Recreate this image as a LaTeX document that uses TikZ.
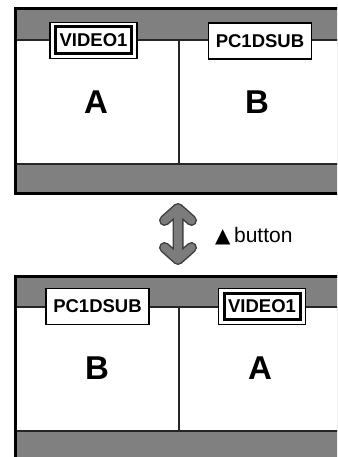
\documentclass[tikz,border=0pt]{standalone}
\usepackage{fontspec}
\setmainfont{Liberation Sans}
\newfontfamily\dejavu{DejaVu Sans}
\definecolor{scrgray}{HTML}{808080}
\definecolor{arrgray}{HTML}{7C7C7C}
\definecolor{arrdark}{HTML}{404040}
\begin{document}
\begin{tikzpicture}[x=1pt,y=-1pt,
  frame/.style={line width=3pt,black},
  thinline/.style={line width=1.3pt,black!85},
  lbl/.style={draw=black,line width=1.3pt,fill=white,inner sep=0pt,minimum height=36pt,
    font=\bfseries\fontsize{18.5}{19}\selectfont},
  big/.style={font=\bfseries\fontsize{33}{33}\selectfont},
  arrline/.style={line cap=round,line join=round}]
\useasboundingbox (0,0) rectangle (337,457);
\clip (0,0) rectangle (337,457);
\fill[white] (0,0) rectangle (337,457);
% ---------- top screen ----------
\fill[scrgray] (15,9) rectangle (345,193);
\fill[white] (15,40) rectangle (345,164);
\draw[thinline] (15,40) -- (345,40) (15,164) -- (345,164) (179,40) -- (179,164);
\draw[frame] (345,9) -- (15,9) -- (15,193) -- (345,193);
\node[lbl,minimum width=87pt] (tv1) at (93.5,40.5) {};
\node[draw=black,line width=3pt,minimum width=76pt,minimum height=26.5pt,inner sep=0pt,
  font=\bfseries\fontsize{18.5}{19}\selectfont] (tv1in) at (93.5,40.2) {VIDEO1};
\node[lbl,minimum width=103pt] (tpc) at (260,41) {PC1DSUB};
\node[big] (ta) at (96,102) {A};
\node[big] (tb) at (257,102) {B};
% ---------- arrow ----------
\draw[arrline,line width=11pt,arrdark]
  (164.5,220.5) -- (178,208.5) -- (191.5,220.5) (178,208.5) -- (178,259.5)
  (164.5,247.5) -- (178,259.5) -- (191.5,247.5);
\draw[arrline,line width=8pt,arrgray]
  (164.5,220.5) -- (178,208.5) -- (191.5,220.5) (178,208.5) -- (178,259.5)
  (164.5,247.5) -- (178,259.5) -- (191.5,247.5);
\node[anchor=west,inner sep=0pt,font=\fontsize{21}{21}\selectfont] (btn) at (215,236)
  {{\dejavu\fontsize{20}{20}\selectfont ▲}\,button};
% ---------- bottom screen ----------
\fill[scrgray] (15,276) rectangle (345,465);
\fill[white] (15,307) rectangle (345,431);
\draw[thinline] (15,307) -- (345,307) (15,431) -- (345,431) (179,307) -- (179,431);
\draw[frame] (345,276) -- (15,276) -- (15,465);
\node[lbl,minimum width=103pt] (bpc) at (97.5,306.5) {PC1DSUB};
\node[lbl,minimum width=87pt] (bv1) at (262,306.3) {};
\node[draw=black,line width=3pt,minimum width=76pt,minimum height=26.5pt,inner sep=0pt,
  font=\bfseries\fontsize{18.5}{19}\selectfont] (bv1in) at (262,306.3) {VIDEO1};
\node[big] (bb) at (97,368.5) {B};
\node[big] (ba) at (260,368.5) {A};
\end{tikzpicture}
\end{document}
